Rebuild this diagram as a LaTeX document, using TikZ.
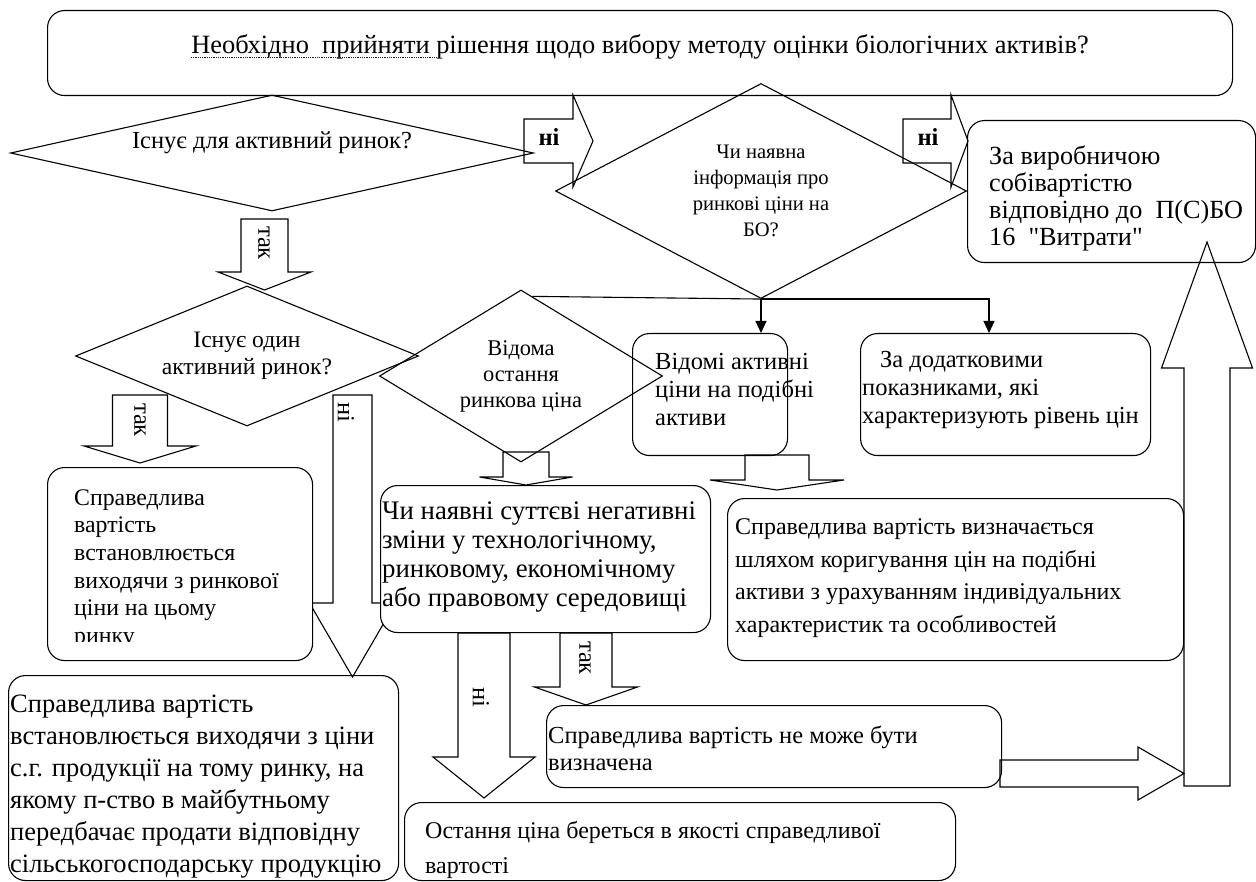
\documentclass[tikz,border=0pt]{standalone}
\usepackage{fontspec}
\setmainfont{Liberation Serif}[Ligatures=TeXOff]
\usetikzlibrary{shapes.geometric,arrows.meta,calc}

% vertical block arrow: centre x, start y, head y, tip y, half shaft, half head
\newcommand{\vblock}[6]{\draw[blockarrow] ({#1-#5},#2) -- ({#1+#5},#2) -- ({#1+#5},#3) -- ({#1+#6},#3) -- (#1,#4) -- ({#1-#6},#3) -- ({#1-#5},#3) -- cycle;}
% horizontal block arrow: centre y, start x, head x, tip x, half shaft, half head
\newcommand{\hblock}[6]{\draw[blockarrow] (#2,{#1-#5}) -- (#3,{#1-#5}) -- (#3,{#1-#6}) -- (#4,#1) -- (#3,{#1+#6}) -- (#3,{#1+#5}) -- (#2,{#1+#5}) -- cycle;}

\tikzset{
  box/.style={draw, rounded corners=17pt, line width=1.1pt, inner sep=0pt, anchor=north west},
  decision/.style 2 args={draw, diamond, line width=1.1pt, inner sep=0pt, align=center, font=\rmfamily\fontsize{#1}{#2}\selectfont},
  txt/.style 2 args={align=left, inner sep=0pt, anchor=west, font=\rmfamily\fontsize{#1}{#2}\selectfont},
  blockarrow/.style={line width=1.1pt},
  tag/.style={inner sep=0pt, rotate=-90},
  flow/.style={-{Triangle[width=11pt,length=12pt]}, line width=1.1pt}
}

\begin{document}
\begin{tikzpicture}[x=1pt, y=-1pt, font=\rmfamily\fontsize{24.5}{28}\selectfont]
\useasboundingbox (0,0) rectangle (1256,882);
% Main question
\node[box, minimum width=1185, minimum height=85] (top) at (47,10) {};
\node[inner sep=0pt, font=\rmfamily\fontsize{26.4}{30}\selectfont] (title) at (640,47) {Необхідно\ \ прийняти рішення щодо вибору методу оцінки біологічних активів?};
\draw[blue, densely dotted, line width=0.8pt] ([yshift=-4pt]title.base west) -- ++(245,0);
% Decisions
\node[decision={23.6}{27}, minimum width=523, minimum height=116, shape aspect=4.5,
  label={[yshift=10pt]center:Існує для активний ринок?}] (d1) at (272,153) {};
\node[decision={20.6}{26}, minimum width=411, minimum height=215, shape aspect=1.9] (d2) at (761,191)
  {Чи наявна\\інформація про\\ринкові ціни на\\БО?};
\node[decision={23.6}{27}, minimum width=343, minimum height=140, shape aspect=2.45] (d3) at (247,356)
  {Існує один\\активний ринок?};
\node[decision={22.4}{26}, minimum width=283, minimum height=172, shape aspect=1.65] (d4) at (521,376)
  {Відома\\остання\\ринкова ціна};
% Block arrows
\hblock{141}{524}{573}{593}{22}{46}
\node[font=\rmfamily\fontsize{24.5}{28}\selectfont\bfseries] (no1) at (549,137) {ні};
\hblock{141}{903}{951}{968}{22}{46}
\node[font=\rmfamily\fontsize{24.5}{28}\selectfont\bfseries] (no2) at (928,137) {ні};
\vblock{264.5}{219}{272}{290}{23.5}{46.5}
\node[tag] (yes1) at (264,243) {так};
\vblock{140}{395}{446}{463}{27.5}{56}
\node[tag] (yes2) at (140,420) {так};
\vblock{352.5}{395}{603}{677}{19.5}{43}
\node[tag] (no3) at (346,412) {ні};
\vblock{526}{452}{477}{485}{23}{46.5}
\vblock{777}{455}{480}{490}{32}{67}
\vblock{484}{633}{757}{798}{26}{51}
\node[tag] (no4) at (481,697) {ні};
\vblock{586}{633}{687}{705}{26}{51.5}
\node[tag] (yes3) at (585,658) {так};
\hblock{773.5}{1000}{1138}{1184}{13.5}{26.5}
\vblock{1207}{786}{368}{242}{23}{45.5}
% Connectors from D2
\draw[line width=1.1pt] (d2.south) -- ($(d4.north)!0.08!(d4.east)$);
\draw[flow] (d2.south) -- (d2.south |- 0,333);
\draw[flow] (d2.south) -| (989,333);
% Boxes
\node[box, minimum width=288, minimum height=142] (b1) at (967,120) {};
\node[txt={26.2}{27}] (b1t) at (989,198) {За виробничою\\собівартістю\\відповідно до\ \ П(С)БО\\16\ \ "Витрати"};
\node[box, minimum width=155, minimum height=122] (b2) at (632,333) {};
\node[txt={24.5}{28}] (b2t) at (655,390) {Відомі активні\\ціни на подібні\\активи};
\node[box, minimum width=290, minimum height=122] (b3) at (860,333) {};
\node[txt={24.5}{28}] (b3t) at (862,390) {\hspace*{18pt}За додатковими\\показниками, які\\характеризують рівень цін};
\node[box, minimum width=456, minimum height=162] (b4) at (727,498) {};
\node[txt={24}{32.5}] (b4t) at (735,578) {Справедлива вартість визначається\\шляхом коригування цін на подібні\\активи з урахуванням індивідуальних\\характеристик та особливостей};
\node[box, fill=white, minimum width=330, minimum height=147] (b5) at (380,485) {};
\node[txt={26.8}{29}] (b5t) at (382,557) {Чи наявні суттєві негативні\\зміни у технологічному,\\ринковому, економічному\\або правовому середовищі};
\node[box, fill=white, minimum width=265, minimum height=193] (b6) at (47,467) {};
\begin{scope}
\clip (47,467) rectangle (312,641);
\node[txt={23.8}{27.6}] (b6t) at (74,569) {Справедлива\\вартість\\встановлюється\\виходячи з ринкової\\ціни на цьому\\ринку};
\end{scope}
\node[box, minimum width=390, minimum height=205] (b7) at (8,675) {};
\node[txt={26.5}{32}] (b7t) at (10,787) {Справедлива вартість\\встановлюється виходячи з ціни\\с.г. продукції на тому ринку, на\\якому п-ство в майбутньому\\передбачає продати відповідну\\сільськогосподарську продукцію};
\node[box, minimum width=551, minimum height=78] (b8) at (404,802) {};
\node[txt={24}{35}] (b8t) at (425,850) {Остання ціна береться в якості справедливої\\вартості};
\node[box, minimum width=455, minimum height=82] (b9) at (546,705) {};
\node[txt={24.5}{27}] (b9t) at (548,748) {Справедлива вартість не може бути\\визначена};
\end{tikzpicture}
\end{document}
